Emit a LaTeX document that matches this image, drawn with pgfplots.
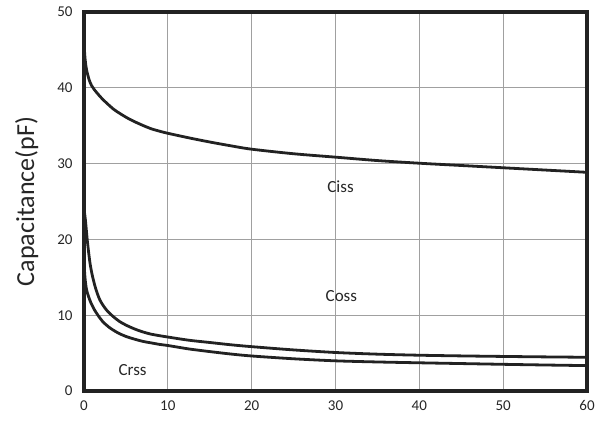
\documentclass[border=0pt]{standalone}
\usepackage{pgfplots}
\pgfplotsset{compat=1.18}
\usepackage{fontspec}
\setmainfont{Carlito}
\definecolor{curve}{HTML}{222222}
\definecolor{gridc}{HTML}{A0A0A0}
\begin{document}
\begin{tikzpicture}[x=1pt,y=1pt]
\path[use as bounding box] (-84,-35) rectangle (524,391);
\begin{axis}[
  at={(0,0)}, anchor=south west,
  scale only axis, width=503pt, height=379pt,
  xmin=0, xmax=60, ymin=0, ymax=50,
  xtick={0,10,...,60}, ytick={0,10,...,50},
  grid=major,
  major grid style={gridc, line width=1pt},
  major tick length=0pt,
  axis line style={curve, line width=3.5pt},
  /pgf/number format/assume math mode=true,
  tick label style={font=\fontsize{15}{17}\selectfont, text=black!85},
  xticklabel style={yshift=-6pt},
  yticklabel style={xshift=-8pt},
  ylabel={Capacitance(pF)},
  ylabel style={font=\fontsize{26}{30}\selectfont, text=black!85, yshift=12pt},
  clip=true,
]
\addplot[curve, line width=2.8pt, smooth] coordinates {
(0,46) (0.05,45) (0.15,43.6) (0.3,42.4) (0.6,41.1) (0.9,40.3) (1.2,39.8) (1.8,39.0) (2.4,38.3) (3.5,37.2) (4.3,36.6) (5.2,36.0) (6,35.55) (7,35.05) (8,34.6) (9.1,34.25) (10,34.0) (12.5,33.4) (15,32.85) (17.5,32.35) (20,31.9) (25,31.3) (30,30.85) (35,30.4) (40,30.05) (45,29.75) (50,29.45) (55,29.15) (60,28.85)};
\addplot[curve, line width=2.8pt, smooth] coordinates {
(0,24) (0.1,23.2) (0.2,22.2) (0.4,19.8) (0.7,17.0) (1.0,15.2) (1.4,13.5) (1.9,12.0) (2.6,10.8) (3.4,9.9) (4.2,9.2) (5,8.7) (6,8.2) (7,7.8) (8,7.5) (9,7.3) (10,7.12) (12.5,6.7) (15,6.4) (17.5,6.1) (20,5.85) (25,5.42) (30,5.08) (35,4.86) (40,4.72) (45,4.63) (50,4.56) (55,4.5) (60,4.45)};
\addplot[curve, line width=2.8pt, smooth] coordinates {
(0,17) (0.05,16) (0.15,14.6) (0.3,13.4) (0.5,12.6) (0.8,11.7) (1.2,10.8) (1.6,10.1) (2.2,9.2) (3,8.4) (4,7.7) (5,7.2) (6,6.85) (7,6.55) (8,6.35) (9,6.15) (10,6.0) (12.5,5.55) (15,5.2) (17.5,4.88) (20,4.62) (25,4.25) (30,3.98) (35,3.83) (40,3.72) (45,3.62) (50,3.52) (55,3.43) (60,3.35)};
\node[font=\fontsize{17}{20}\selectfont, text=black!85] at (axis cs:30.6,26.9) {Ciss};
\node[font=\fontsize{17}{20}\selectfont, text=black!85] at (axis cs:30.7,12.5) {Coss};
\node[font=\fontsize{17}{20}\selectfont, text=black!85] at (axis cs:5.8,2.75) {Crss};
\end{axis}
\end{tikzpicture}
\end{document}
